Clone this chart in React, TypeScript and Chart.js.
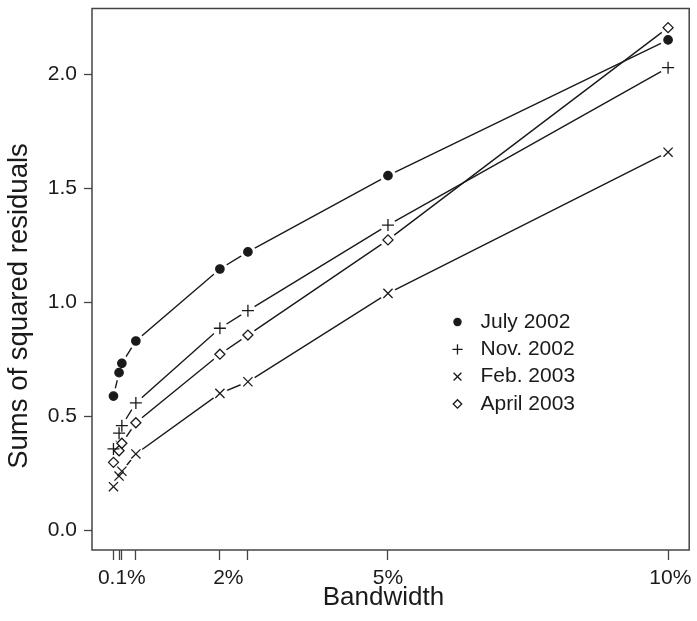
import { useEffect, useRef } from 'react';
import { Chart, registerables } from 'chart.js';
import { drawPoint } from 'chart.js/helpers';

Chart.register(...registerables);

// ---- data ----
const bandwidth = [0.1, 0.2, 0.25, 0.5, 2, 2.5, 5, 10];
const july2002 = [0.588, 0.691, 0.732, 0.83, 1.146, 1.221, 1.556, 2.152];
const nov2002 = [0.356, 0.425, 0.458, 0.558, 0.886, 0.963, 1.339, 2.03];
const feb2003 = [0.19, 0.237, 0.258, 0.334, 0.6, 0.651, 1.039, 1.659];
const apr2003 = [0.297, 0.348, 0.381, 0.471, 0.772, 0.856, 1.274, 2.206];
const seriesNames = ['July 2002', 'Nov. 2002', 'Feb. 2003', 'April 2003'];
const yTicks = [0, 0.5, 1, 1.5, 2];
const xTickLabels = ['0.1%', '2%', '5%', '10%'];
const xTickLabelAt = [0.25, 2.15, 5, 10.04];

const FONT = '"Liberation Sans", Arial, Helvetica, sans-serif';
const INK = '#1a1a1a';
const AXIS = '#444444';

const gappedLines = {
  id: 'gappedLines',
  beforeDatasetDraw(chart: any, args: any) {
    const { ctx, chartArea } = chart;
    const meta = args.meta;
    const gap = 8;
    ctx.save();
    for (const el of meta.data) {
      ctx.beginPath();
      ctx.rect(0, 0, chart.width, chart.height);
      ctx.moveTo(el.x + gap, el.y);
      ctx.arc(el.x, el.y, gap, 0, Math.PI * 2);
      ctx.closePath();
      ctx.clip('evenodd');
    }
    meta.dataset.draw(ctx, chartArea);
    ctx.restore();
    for (const el of meta.data) el.draw(ctx, chartArea);
    return false;
  },
};

const boxPlugin = {
  id: 'plotBox',
  afterDraw(chart: any) {
    const { ctx, chartArea: a } = chart;
    ctx.save();
    ctx.strokeStyle = AXIS;
    ctx.lineWidth = 1.5;
    ctx.strokeRect(a.left, a.top, a.width, a.height);
    ctx.restore();
  },
};

const legendPlugin = {
  id: 'innerLegend',
  afterDraw(chart: any) {
    const { ctx, chartArea: a } = chart;
    const x0 = a.left + a.width * 0.612;
    const y0 = a.top + a.height * 0.579;
    const step = 27.3;
    ctx.save();
    chart.data.datasets.forEach((ds: any, i: number) => {
      const y = y0 + i * step;
      ctx.fillStyle = ds.pointBackgroundColor;
      ctx.strokeStyle = ds.pointBorderColor;
      ctx.lineWidth = ds.pointBorderWidth;
      drawPoint(
        ctx,
        { pointStyle: ds.pointStyle, radius: ds.pointRadius * 0.85, borderWidth: ds.pointBorderWidth, rotation: 0 } as any,
        x0,
        y
      );
      ctx.fillStyle = INK;
      ctx.font = `21px ${FONT}`;
      ctx.textBaseline = 'middle';
      ctx.textAlign = 'left';
      ctx.fillText(ds.label, x0 + 23, y);
    });
    ctx.restore();
  },
};

function makeSeries(label: string, values: number[], style: string, radius: number, fill: string) {
  return {
    label,
    data: bandwidth.map((b, i) => ({ x: b, y: values[i] })),
    borderColor: INK,
    borderWidth: 1.4,
    tension: 0,
    pointStyle: style,
    pointRadius: radius,
    pointBorderWidth: 1.3,
    pointBorderColor: INK,
    pointBackgroundColor: fill,
  };
}

export default function App() {
  const ref = useRef<HTMLCanvasElement | null>(null);

  useEffect(() => {
    if (!ref.current) return;
    const chart = new Chart(ref.current, {
      type: 'line',
      data: {
        datasets: [
          makeSeries(seriesNames[0], july2002, 'circle', 4.2, INK),
          makeSeries(seriesNames[1], nov2002, 'cross', 6, INK),
          makeSeries(seriesNames[2], feb2003, 'crossRot', 6.5, INK),
          makeSeries(seriesNames[3], apr2003, 'rectRot', 5, '#ffffff'),
        ] as any,
      },
      options: {
        animation: false,
        responsive: false,
        devicePixelRatio: 1,
        layout: { padding: { top: 8.5, right: 3, left: 0, bottom: 0 } },
        plugins: {
          legend: { display: false },
          tooltip: { enabled: false },
        },
        scales: {
          x: {
            type: 'linear',
            min: -0.283,
            max: 10.377,
            border: { display: false },
            grid: {
              display: true,
              drawOnChartArea: false,
              drawTicks: true,
              tickLength: 10,
              tickWidth: 1.3,
              tickColor: (c: any) => (c.tick && c.tick.label ? 'rgba(0,0,0,0)' : AXIS),
            },
            afterBuildTicks: (scale: any) => {
              const marks = bandwidth.map((v) => ({ value: v, lbl: '' }));
              const labs = xTickLabelAt.map((v, i) => ({ value: v, lbl: xTickLabels[i] }));
              scale.ticks = [...marks, ...labs].sort((p, q) => p.value - q.value);
            },
            afterFit: (scale: any) => {
              scale.height = 71;
              scale.paddingLeft = 0;
              scale.paddingRight = 0;
              scale.paddingTop = 0;
              scale.paddingBottom = 0;
            },
            ticks: {
              autoSkip: false,
              maxRotation: 0,
              minRotation: 0,
              padding: 6,
              color: INK,
              font: { family: FONT, size: 21 },
              callback: (_v: any, i: number, ticks: any[]) => ticks[i].lbl ?? '',
            },
            title: {
              display: true,
              text: 'Bandwidth  ',
              color: INK,
              font: { family: FONT, size: 26 },
              padding: { top: 0, bottom: 8 },
            },
          },
          y: {
            type: 'linear',
            min: -0.0878,
            max: 2.29,
            border: { display: false },
            grid: {
              display: true,
              drawOnChartArea: false,
              drawTicks: true,
              tickLength: 8,
              tickWidth: 1.3,
              tickColor: AXIS,
            },
            afterBuildTicks: (scale: any) => {
              scale.ticks = yTicks.map((v) => ({ value: v }));
            },
            afterFit: (scale: any) => {
              scale.width = 92;
              scale.paddingLeft = 0;
              scale.paddingRight = 0;
              scale.paddingTop = 0;
              scale.paddingBottom = 0;
            },
            ticks: {
              padding: 7,
              color: INK,
              font: { family: FONT, size: 21 },
              callback: (v: any) => Number(v).toFixed(1),
            },
            title: {
              display: true,
              text: 'Sums of squared residuals       ',
              color: INK,
              font: { family: FONT, size: 27.5 },
              padding: { top: 2.5, bottom: 0 },
            },
          },
        },
      } as any,
      plugins: [gappedLines, boxPlugin, legendPlugin],
    });
    return () => chart.destroy();
  }, []);

  return (
    <div style={{ position: 'absolute', left: 0, top: 0, width: 697, height: 621, background: '#fff' }}>
      <canvas ref={ref} width={697} height={621} style={{ display: 'block' }} />
    </div>
  );
}
